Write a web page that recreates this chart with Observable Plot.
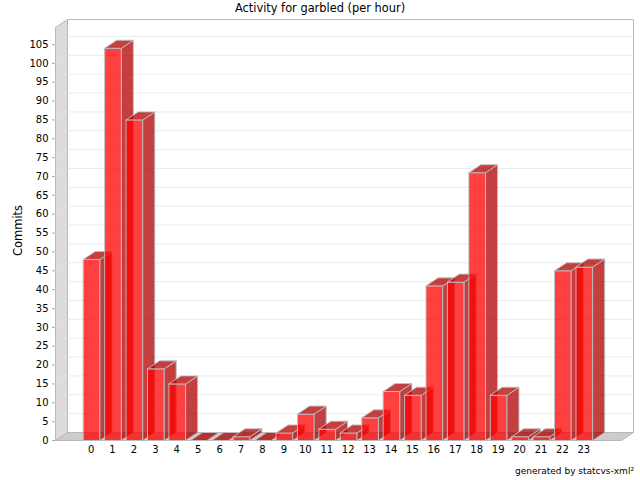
<!DOCTYPE html>
<html>
<head>
<meta charset="utf-8">
<script src="https://cdn.jsdelivr.net/npm/d3@7"></script>
<script src="https://cdn.jsdelivr.net/npm/@observablehq/plot@0.6"></script>
<style>
html,body{margin:0;padding:0;background:#fff;width:640px;height:480px;overflow:hidden}
#title{height:16px;line-height:16px;text-align:center;font-family:"DejaVu Sans",sans-serif;font-size:11.4px;color:#000;white-space:nowrap}
#caption{height:16px;line-height:14px;text-align:right;font-family:"DejaVu Sans",sans-serif;font-size:9px;color:#000;padding-right:6px;white-space:nowrap}
svg{display:block}
</style>
</head>
<body>
<div id="title"></div>
<div id="chart"></div>
<div id="caption"></div>
<script>
const titleText = "Activity for garbled (per hour)";
const captionText = "generated by statcvs-xml²";
const yLabel = "Commits";
const hours = [0,1,2,3,4,5,6,7,8,9,10,11,12,13,14,15,16,17,18,19,20,21,22,23];
const commits = [48,104,85,19,15,0,0,1,0,2,7,3,2,6,13,12,41,42,71,12,1,1,45,46];
const yTicks = [0,5,10,15,20,25,30,35,40,45,50,55,60,65,70,75,80,85,90,95,100,105];

const xMin = -1.685, xMax = 24.735, yMax = 109.5;
const depthX = 0.56, depthY = 2.12, halfBar = 0.39;

const polygon = (id, color, pts) => pts.concat([pts[0]]).map(([x, y]) => ({id, color, x, y}));

const faces = hours.flatMap((h, i) => {
  const l = h - halfBar, r = h + halfBar, v = commits[i];
  return [
    polygon(`f${h}`, "#ff0000", [[l,0],[r,0],[r,v],[l,v]]),
    polygon(`s${h}`, "#b00000", [[r,0],[r+depthX,depthY],[r+depthX,v+depthY],[r,v]]),
    polygon(`t${h}`, "#b00000", [[l,v],[r,v],[r+depthX,v+depthY],[l+depthX,v+depthY]])
  ].flat();
});

const wallLeft = polygon("wl", "#dcdcdc", [[xMin,0],[xMin+depthX,depthY],[xMin+depthX,yMax+depthY],[xMin,yMax]]);
const wallFloor = polygon("wf", "#cccccc", [[xMin,0],[xMax,0],[xMax+depthX,depthY],[xMin+depthX,depthY]]);
const wallBack = polygon("wb", "#ffffff", [[xMin+depthX,depthY],[xMax+depthX,depthY],[xMax+depthX,yMax+depthY],[xMin+depthX,yMax+depthY]]);
const gridRows = yTicks.filter(t => t > 0).flatMap(t => [
  {id:t, x:xMin, y:t},
  {id:t, x:xMin+depthX, y:t+depthY},
  {id:t, x:xMax+depthX, y:t+depthY}
]);

const chart = Plot.plot({
  width: 640,
  height: 448,
  marginLeft: 55,
  marginRight: 19,
  marginTop: 11,
  marginBottom: 24,
  style: {fontFamily: '"DejaVu Sans", sans-serif', background: "#fff", color: "#000"},
  x: {domain: [xMin, xMax]},
  y: {domain: [0, yMax]},
  marks: [
    Plot.line(wallBack, {x:"x", y:"y", fill:"#ffffff", stroke:"#b8b8b8", strokeWidth:1}),
    Plot.line(wallLeft, {x:"x", y:"y", fill:"#dcdcdc", stroke:"#b8b8b8", strokeWidth:1}),
    Plot.line(wallFloor, {x:"x", y:"y", fill:"#cccccc", stroke:"#b8b8b8", strokeWidth:1}),
    Plot.line(gridRows, {x:"x", y:"y", z:"id", stroke:"#e2e2e2", strokeWidth:1, strokeDasharray:"2,2"}),
    Plot.line(faces, {x:"x", y:"y", z:"id", fill:d=>d.color, fillOpacity:0.75, stroke:"#c0c0c0", strokeWidth:1, strokeOpacity:0.9}),
    Plot.axisY(yTicks, {anchor:"left", tickSize:3, tickPadding:4, fontSize:10, label:null, stroke:"#aaa"}),
    Plot.axisX(hours, {anchor:"bottom", tickSize:0, tickPadding:5, fontSize:10, dx:-0.5, label:null}),
    Plot.text([yLabel], {frameAnchor:"left", dx:-37, dy:-3.5, rotate:-90, fontSize:11.5, textAnchor:"middle"})
  ]
});
document.getElementById("title").textContent = titleText;
document.getElementById("chart").append(chart);
document.getElementById("caption").textContent = captionText;
</script>
</body>
</html>
